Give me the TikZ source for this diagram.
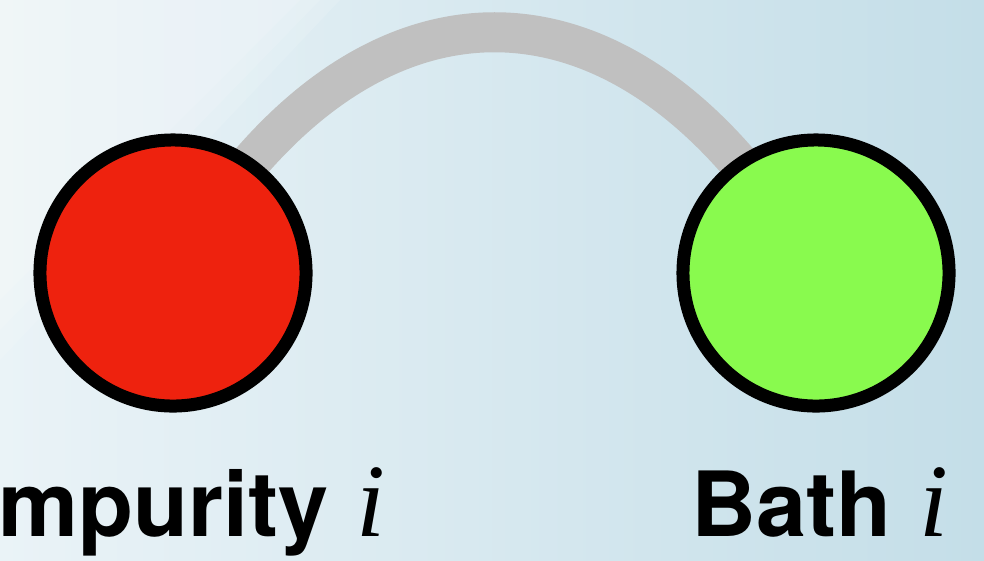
\documentclass[tikz,border=0pt]{standalone}
\usepackage{fontspec}
\setsansfont{TeX Gyre Heros}
\newfontfamily\idxfont{Liberation Serif}
\usetikzlibrary{positioning}

\definecolor{impred}{RGB}{238,34,14}
\definecolor{bathgreen}{RGB}{137,250,78}
\definecolor{bondgray}{RGB}{192,192,192}
\definecolor{bgleft}{RGB}{234,243,247}
\definecolor{bgright}{RGB}{196,222,232}

\pgfdeclarelayer{bglayer}
\pgfdeclarelayer{bondlayer}
\pgfsetlayers{bglayer,bondlayer,main}

\begin{document}
\begin{tikzpicture}[
    x=0.025cm, y=-0.025cm,
    site/.style={circle, draw=black, line width=0.325cm, minimum size=6.65cm, inner sep=0pt},
    bond/.style={line width=1cm, bondgray},
    sitelabel/.style={anchor=base east, inner sep=0pt, font=\sffamily\bfseries\fontsize{64}{68}\selectfont}
]
    \useasboundingbox (0,0) rectangle (984,560);

    % --- NEN (gradient xanh nhat) ---
    \begin{pgfonlayer}{bglayer}
        \shade[left color=bgleft, right color=bgright] (0,0) rectangle (984,560);
        \fill[white, opacity=0.12] (0,0) -- (340,0) -- (0,360) -- cycle;
        \fill[white, opacity=0.12] (0,0) -- (320,0) -- (0,330) -- cycle;
        \fill[white, opacity=0.12] (0,0) -- (300,0) -- (0,300) -- cycle;
    \end{pgfonlayer}

    % --- HAI NUT ---
    \node[site, fill=impred] (imp) at (173,273) {};
    \node[site, fill=bathgreen] (bath) at (816,273) {};

    % --- LIEN KET (nam duoi hai nut) ---
    \begin{pgfonlayer}{bondlayer}
        \draw[bond] (imp.center) .. controls (357,-48) and (632,-48) .. (bath.center);
    \end{pgfonlayer}

    % --- NHAN ---
    \node[sitelabel] (implabel) at (386,536)
        {Impurity\hspace{0.31em}{\idxfont\mdseries\itshape\fontsize{74}{74}\selectfont i}};
    \node[sitelabel] (bathlabel) at (949,536)
        {Bath\hspace{0.31em}{\idxfont\mdseries\itshape\fontsize{74}{74}\selectfont i}};

\end{tikzpicture}
\end{document}
